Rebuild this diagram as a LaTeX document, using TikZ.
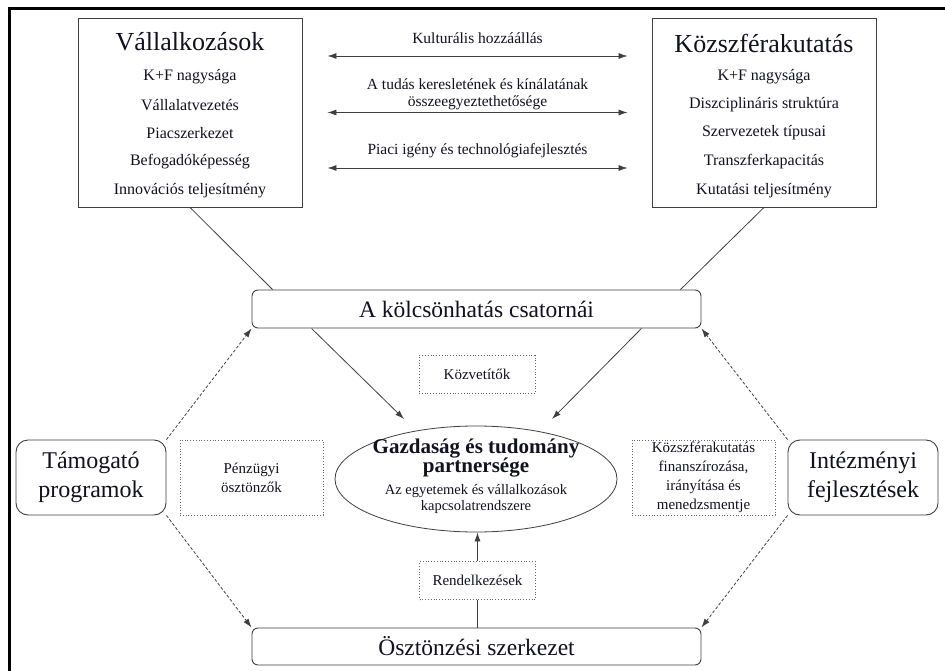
\documentclass[tikz,border=0pt]{standalone}
\usepackage{fontspec}
\setmainfont{Liberation Serif}
\usetikzlibrary{arrows.meta,shapes.geometric}
\definecolor{ln}{HTML}{404040}
\definecolor{tx}{HTML}{111122}
\begin{document}
\begin{tikzpicture}[x=1pt,y=-1pt,
  every node/.style={text=tx, inner sep=0pt},
  bigbox/.style={draw=ln, line width=0.9pt, minimum width=224pt, minimum height=189pt},
  rbox/.style={draw=ln, line width=0.9pt, rounded corners=6pt, align=center, fill=white},
  sidebox/.style={draw=ln, line width=0.9pt, rounded corners=12pt, align=center, minimum width=150pt, minimum height=75pt, font=\fontsize{24}{29}\selectfont},
  dbox/.style={draw=ln!80, dotted, line width=0.8pt, align=center, fill=white},
  ttl/.style={font=\fontsize{26}{30}\selectfont},
  itm/.style={font=\fontsize{16}{18}\selectfont},
  lbl/.style={font=\fontsize{15.5}{17}\selectfont, align=center},
  sml/.style={font=\fontsize{15}{19}\selectfont},
  conn/.style={draw=ln, line width=0.8pt},
  arr/.style={conn, -{Latex[length=9pt,width=6pt]}},
  darr/.style={conn, {Latex[length=9pt,width=6pt]}-{Latex[length=9pt,width=6pt]}},
  dsharr/.style={conn, dash pattern=on 3pt off 2pt, -{Latex[length=9pt,width=6pt]}}
]
\useasboundingbox (0,0) rectangle (945,671);
\fill[white] (0,0) rectangle (945,671);
% frame
\draw[line width=3pt, black] (9.5,671) -- (9.5,8.5) -- (945,8.5);

% top boxes
\node[bigbox] (vall) at (190,112.5) {};
\node[bigbox] (kozsz) at (764,112.5) {};

\node[ttl] (vallT) at (190,42) {Vállalkozások};
\node[itm] (v1) at (190,77) {K+F nagysága};
\node[itm] (v2) at (190,105) {Vállalatvezetés};
\node[itm] (v3) at (190,133) {Piacszerkezet};
\node[itm] (v4) at (190,162) {Befogadóképesség};
\node[itm] (v5) at (190,191) {Innovációs teljesítmény};

\node[ttl] (kozT) at (764,43) {Közszférakutatás};
\node[itm] (k1) at (764,77) {K+F nagysága};
\node[itm] (k2) at (764,105) {Diszciplináris struktúra};
\node[itm] (k3) at (764,133) {Szervezetek típusai};
\node[itm] (k4) at (764,162) {Transzferkapacitás};
\node[itm] (k5) at (764,191) {Kutatási teljesítmény};

% double arrows with labels
\draw[darr] ([shift={(25,-56.5)}]vall.east) -- ([shift={(-24,-56.5)}]kozsz.west);
\draw[darr] ([shift={(25,0)}]vall.east) -- ([shift={(-24,0)}]kozsz.west);
\draw[darr] ([shift={(25,55.5)}]vall.east) -- ([shift={(-24,55.5)}]kozsz.west);
\node[lbl] (l1) at (477.5,38) {Kulturális hozzáállás};
\node[lbl] (l2) at (477.5,94) {A tudás keresletének és kínálatának\\összeegyeztethetősége};
\node[lbl] (l3) at (477.5,151) {Piaci igény és technológiafejlesztés};

% channel and incentive structure
\node[rbox, minimum width=449pt, minimum height=38pt, font=\fontsize{23.5}{26}\selectfont] (chan) at (476.5,309) {A kölcsönhatás csatornái};
\node[rbox, minimum width=449pt, minimum height=37pt, font=\fontsize{23.5}{26}\selectfont] (osz) at (476.5,646.5) {Ösztönzési szerkezet};

\draw[conn] (vall.south) -- ([xshift=21pt]chan.north west);
\draw[conn] (kozsz.south) -- ([xshift=-21pt]chan.north east);

% side boxes
\node[sidebox] (tam) at (91,477.5) {Támogató\\programok};
\node[sidebox] (int) at (863,477.5) {Intézményi\\fejlesztések};

\node[dbox, sml, minimum width=143pt, minimum height=75pt] (penz) at (251.5,477.5) {Pénzügyi\\ösztönzők};
\node[dbox, sml, minimum width=143pt, minimum height=75pt] (fin) at (703.5,477.5) {Közszférakutatás\\finanszírozása,\\irányítása és\\menedzsmentje};

% centre ellipse
\node[draw=ln, line width=0.8pt, ellipse, minimum width=282pt, minimum height=106pt] (ell) at (476,479) {};
\node[font=\fontsize{21}{21}\bfseries\selectfont] (e1) at (476,449) {Gazdaság és tudomány};
\node[font=\fontsize{21}{21}\bfseries\selectfont] (e2) at (476,468) {partnersége};
\node[font=\fontsize{14.5}{15}\selectfont] (e3) at (476,491) {Az egyetemek és vállalkozások};
\node[font=\fontsize{14.5}{15}\selectfont] (e4) at (476,507) {kapcsolatrendszere};

\node[dbox, sml, minimum width=116pt, minimum height=38pt] (kozv) at (477,374.5) {Közvetítők};
\node[dbox, sml, minimum width=116pt, minimum height=38pt] (rend) at (477.5,580.5) {Rendelkezések};

% arrows to ellipse
\draw[arr] ([xshift=60pt]chan.south west) -- ([shift={(-72,-60)}]ell.center);
\draw[arr] ([xshift=-60pt]chan.south east) -- ([shift={(76,-60)}]ell.center);
\draw[conn] (osz.north -| rend.south) -- (rend.south);
\draw[arr] (rend.north) -- (rend.north |- ell.south);

% dashed arrows
\draw[dsharr] (tam.north east) -- (chan.south west);
\draw[dsharr] (tam.south east) -- (osz.north west);
\draw[dsharr] (int.north west) -- (chan.south east);
\draw[dsharr] (int.south west) -- (osz.north east);
\end{tikzpicture}
\end{document}
